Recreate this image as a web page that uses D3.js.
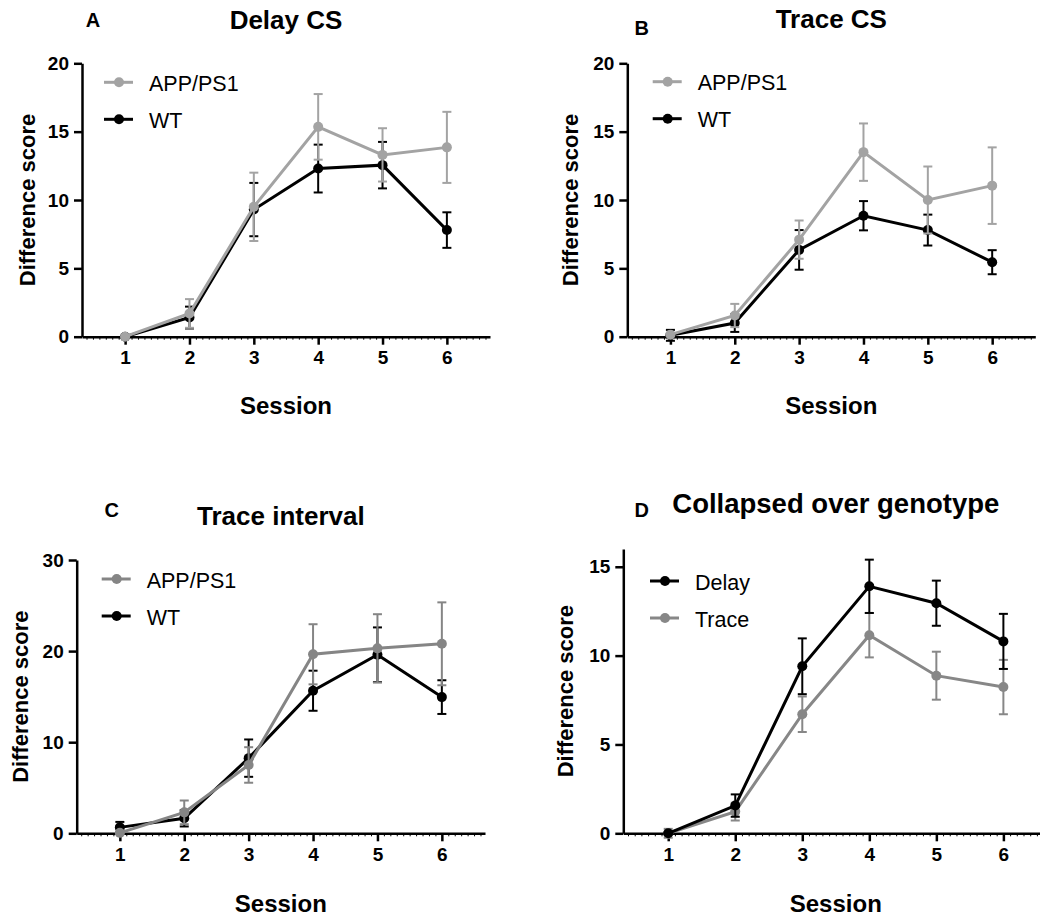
<!DOCTYPE html>
<html>
  <head>
    <meta charset="utf-8">
    <title>Difference score by session</title>
    <script src="https://d3js.org/d3.v7.min.js"></script>
    <style>
      body { margin: 0; background: #fff; }
      svg { display: block; font-family: "Liberation Sans", Arial, sans-serif; }
      .axis path, .axis line { stroke: #000; }
      .axis text { font-size: 19px; font-weight: bold; fill: #000; }
      .title { font-size: 26px; font-weight: bold; text-anchor: middle; }
      .letter { font-size: 20px; font-weight: bold; text-anchor: middle; }
      .label { font-size: 22px; font-weight: bold; text-anchor: middle; }
      .xlabel { font-size: 24px; }
      .legend text { font-size: 21.5px; }
    </style>
  </head>
  <body>
    <svg id="chart" width="1040" height="918"></svg>
    <script>
      // data (mean and SEM per session)
      const sessions = [1, 2, 3, 4, 5, 6];
      // A: delay CS
      const delayCsApp = [0, 1.7, 9.5, 15.35, 13.3, 13.85];
      const delayCsAppErr = [0, 1.05, 2.5, 2.4, 1.95, 2.6];
      const delayCsWt = [0, 1.4, 9.3, 12.3, 12.55, 7.8];
      const delayCsWtErr = [0, 0.8, 1.95, 1.75, 1.7, 1.3];
      // B: trace CS
      const traceCsApp = [0.15, 1.55, 7.1, 13.5, 10.0, 11.05];
      const traceCsAppErr = [0.1, 0.85, 1.4, 2.1, 2.45, 2.8];
      const traceCsWt = [0.1, 1.0, 6.35, 8.85, 7.8, 5.45];
      const traceCsWtErr = [0.4, 0.65, 1.45, 1.07, 1.13, 0.88];
      // C: trace interval
      const intervalApp = [0.05, 2.3, 7.5, 19.65, 20.3, 20.8];
      const intervalAppErr = [0.1, 1.3, 1.95, 3.3, 3.75, 4.55];
      const intervalWt = [0.65, 1.65, 8.25, 15.65, 19.6, 14.95];
      const intervalWtErr = [0.6, 0.9, 2.05, 2.2, 3.0, 1.85];
      // D: collapsed over genotype
      const collapsedDelay = [0, 1.56, 9.4, 13.9, 12.95, 10.8];
      const collapsedDelayErr = [0, 0.63, 1.57, 1.5, 1.27, 1.55];
      const collapsedTrace = [0, 1.22, 6.7, 11.15, 8.87, 8.23];
      const collapsedTraceErr = [0.25, 0.5, 1.0, 1.25, 1.35, 1.53];

      const panels = [
        { letter: "A", title: "Delay CS", x0: 82, x1: 490, y0: 336.7, y1: 63.3, yMax: 20, yTicks: [0, 5, 10, 15, 20],
          titleY: 29.3, titleSize: 26, letterX: 93, letterY: 26.7, yLabelX: 26.7, xLabelY: 414, legendX: 104, legendY: 82.3,
          series: [
            { name: "APP/PS1", mean: delayCsApp, err: delayCsAppErr, colour: "#a3a3a3" },
            { name: "WT", mean: delayCsWt, err: delayCsWtErr, colour: "#000" }
          ] },
        { letter: "B", title: "Trace CS", x0: 627.3, x1: 1035.3, y0: 336.7, y1: 63.3, yMax: 20, yTicks: [0, 5, 10, 15, 20],
          titleY: 28.3, titleSize: 26, letterX: 641.7, letterY: 35, yLabelX: 570, xLabelY: 414, legendX: 652.7, legendY: 81.7,
          series: [
            { name: "APP/PS1", mean: traceCsApp, err: traceCsAppErr, colour: "#a3a3a3" },
            { name: "WT", mean: traceCsWt, err: traceCsWtErr, colour: "#000" }
          ] },
        { letter: "C", title: "Trace interval", x0: 76.7, x1: 485, y0: 833.3, y1: 560, yMax: 30, yTicks: [0, 10, 20, 30],
          titleY: 525, titleSize: 26, letterX: 111.7, letterY: 516.7, yLabelX: 20, xLabelY: 912, legendX: 101.7, legendY: 579,
          series: [
            { name: "APP/PS1", mean: intervalApp, err: intervalAppErr, colour: "#858585" },
            { name: "WT", mean: intervalWt, err: intervalWtErr, colour: "#000" }
          ] },
        { letter: "D", title: "Collapsed over genotype", x0: 623.3, x1: 1048.3, y0: 833.3, y1: 549, yMax: 16, yTicks: [0, 5, 10, 15],
          titleY: 512.7, titleSize: 27.5, letterX: 641.7, letterY: 516.7, yLabelX: 565, xLabelY: 912, legendX: 650, legendY: 581,
          series: [
            { name: "Delay", mean: collapsedDelay, err: collapsedDelayErr, colour: "#000" },
            { name: "Trace", mean: collapsedTrace, err: collapsedTraceErr, colour: "#878787" }
          ] }
      ];

      const svg = d3.select("#chart");

      panels.forEach(function(p) {
        const g = svg.append("g");
        const x = d3.scaleLinear().domain([0.33, 6.67]).range([p.x0, p.x1]);
        const y = d3.scaleLinear().domain([0, p.yMax]).range([p.y0, p.y1]);

        // minor ticks along the x axis
        g.append("g")
          .attr("class", "axis minor")
          .attr("transform", "translate(0," + p.y0 + ")")
          .call(d3.axisBottom(x).tickValues(d3.range(4, 67).map(function(d) { return d / 10; })).tickSize(3).tickFormat(""))
          .call(function(a) {
            a.select(".domain").remove();
            a.selectAll("line").attr("stroke-width", 1);
          });

        g.append("g")
          .attr("class", "axis")
          .attr("transform", "translate(0," + p.y0 + ")")
          .call(d3.axisBottom(x).tickValues(sessions).tickFormat(d3.format("d")).tickSize(8).tickSizeOuter(0).tickPadding(6))
          .call(function(a) {
            a.select(".domain").attr("stroke-width", 2.5);
            a.selectAll(".tick line").attr("stroke-width", 2.5);
            a.selectAll("text").attr("font-family", null).attr("font-size", null);
          });

        g.append("g")
          .attr("class", "axis")
          .attr("transform", "translate(" + p.x0 + ",0)")
          .call(d3.axisLeft(y).tickValues(p.yTicks).tickFormat(d3.format("d")).tickSize(8).tickSizeOuter(0).tickPadding(5))
          .call(function(a) {
            a.select(".domain").attr("stroke-width", 2.5);
            a.selectAll(".tick line").attr("stroke-width", 2.5);
            a.selectAll("text").attr("font-family", null).attr("font-size", null);
          });

        // text
        g.append("text").attr("class", "title").attr("x", (p.x0 + p.x1) / 2).attr("y", p.titleY)
          .style("font-size", p.titleSize + "px").text(p.title);
        g.append("text").attr("class", "letter").attr("x", p.letterX).attr("y", p.letterY).text(p.letter);
        g.append("text").attr("class", "label xlabel").attr("x", (p.x0 + p.x1) / 2).attr("y", p.xLabelY).text("Session");
        g.append("text").attr("class", "label")
          .attr("transform", "translate(" + p.yLabelX + "," + (p.y0 + p.y1) / 2 + ") rotate(-90)")
          .attr("dy", "0.36em")
          .text("Difference score");

        // series, second drawn first so the first one sits on top
        const line = d3.line().x(function(d, i) { return x(sessions[i]); }).y(function(d) { return y(d); });
        p.series.slice().reverse().forEach(function(s) {
          const sg = g.append("g");
          sg.append("path")
            .attr("d", line(s.mean))
            .attr("fill", "none")
            .attr("stroke", s.colour)
            .attr("stroke-width", 3);
          const bars = sg.selectAll(".bar")
            .data(sessions.map(function(v, i) { return { x: v, m: s.mean[i], e: s.err[i] }; }))
            .enter().append("g")
              .attr("stroke", s.colour)
              .attr("stroke-width", 2);
          bars.append("line")
            .attr("x1", function(d) { return x(d.x); })
            .attr("x2", function(d) { return x(d.x); })
            .attr("y1", function(d) { return y(d.m - d.e); })
            .attr("y2", function(d) { return y(d.m + d.e); });
          [-1, 1].forEach(function(sign) {
            bars.append("line")
              .attr("x1", function(d) { return x(d.x) - 4.5; })
              .attr("x2", function(d) { return x(d.x) + 4.5; })
              .attr("y1", function(d) { return y(d.m + sign * d.e); })
              .attr("y2", function(d) { return y(d.m + sign * d.e); });
          });
          sg.selectAll("circle")
            .data(s.mean)
            .enter().append("circle")
              .attr("cx", function(d, i) { return x(sessions[i]); })
              .attr("cy", function(d) { return y(d); })
              .attr("r", 5)
              .attr("fill", s.colour);
        });

        // legend
        const legend = g.append("g").attr("class", "legend");
        p.series.forEach(function(s, i) {
          const ly = p.legendY + i * 37;
          legend.append("line")
            .attr("x1", p.legendX).attr("x2", p.legendX + 29)
            .attr("y1", ly).attr("y2", ly)
            .attr("stroke", s.colour).attr("stroke-width", 3);
          legend.append("circle")
            .attr("cx", p.legendX + 15).attr("cy", ly).attr("r", 5)
            .attr("fill", s.colour);
          legend.append("text")
            .attr("x", p.legendX + 45).attr("y", ly + 1)
            .attr("dy", "0.35em")
            .text(s.name);
        });
      });
    </script>
  </body>
</html>
